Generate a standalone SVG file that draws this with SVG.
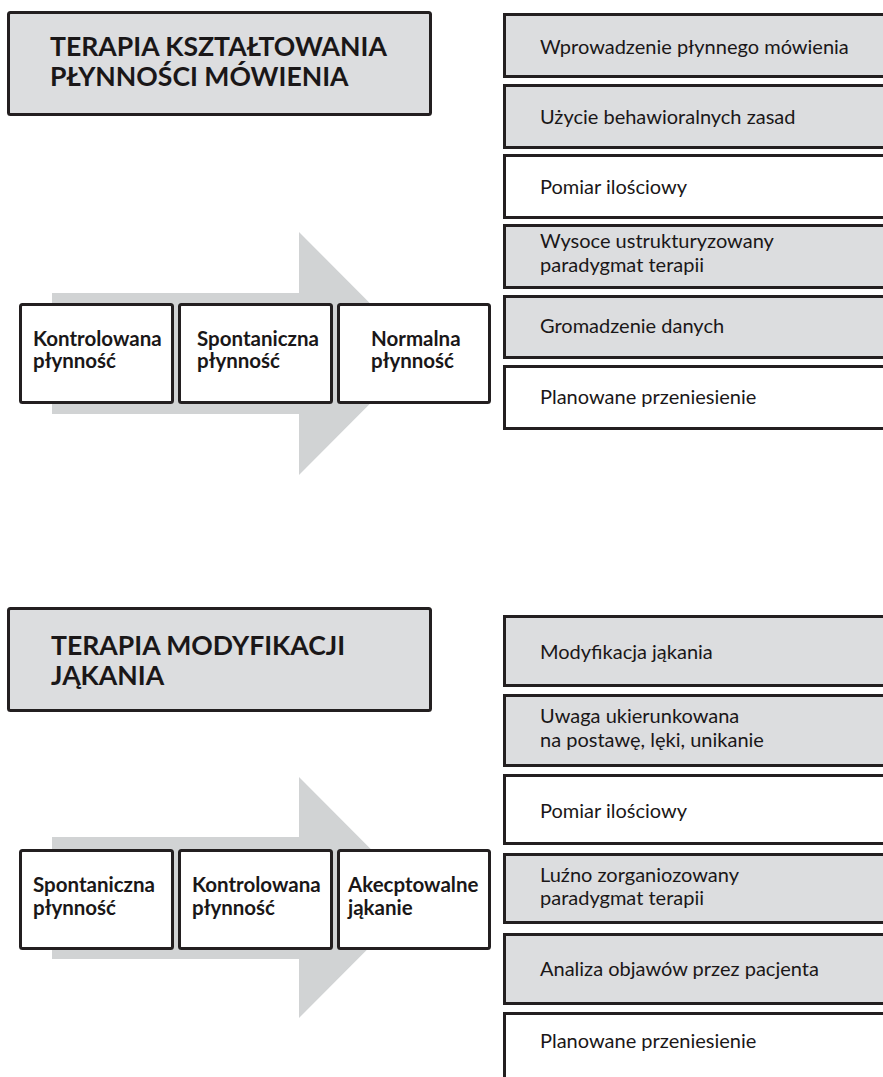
<svg xmlns="http://www.w3.org/2000/svg" width="883" height="1077" viewBox="0 0 883 1077">
<style>
text{font-family:Lato,"Liberation Sans",sans-serif;fill:#1a1718}
.title{font-size:26.6px;font-weight:bold}
.step{font-size:20.5px;font-weight:bold}
.item{font-size:20px}
.tbox{fill:#dcdddf;stroke:#231f20;stroke-width:3}
.g{fill:#dcdddf;stroke:#231f20;stroke-width:3}
.w{fill:#ffffff;stroke:#231f20;stroke-width:3}
.arrow{fill:#d1d3d4}
</style>
<rect width="883" height="1077" fill="#ffffff"/>
<g id="connectors">
<path class="arrow" d="M52,293 H299 V232 L420,353.5 L299,475 V414 H52 Z"/>
<path class="arrow" d="M52,837 H299 V777 L419,897.5 L299,1018 V959 H52 Z"/>
</g>
<g id="title1"><rect class="tbox" x="8.5" y="12.5" width="422" height="102" rx="2"/><text class="title" x="50" y="56">TERAPIA KSZTAŁTOWANIA</text><text class="title" x="50" y="86">PŁYNNOŚCI MÓWIENIA</text></g>
<g id="s1a"><rect class="w" x="20.5" y="304.5" width="152" height="98" rx="2"/><text class="step" x="33" y="346">Kontrolowana</text><text class="step" x="33" y="368">płynność</text></g>
<g id="s1b"><rect class="w" x="179.5" y="304.5" width="152" height="98" rx="2"/><text class="step" x="197" y="346">Spontaniczna</text><text class="step" x="197" y="368">płynność</text></g>
<g id="s1c"><rect class="w" x="338.5" y="304.5" width="151" height="98" rx="2"/><text class="step" x="371" y="346">Normalna</text><text class="step" x="371" y="368">płynność</text></g>
<g id="r1"><rect class="g" x="504.5" y="14.5" width="400" height="62"/><text class="item" x="540" y="54">Wprowadzenie płynnego mówienia</text></g>
<g id="r2"><rect class="g" x="504.5" y="85.5" width="400" height="62"/><text class="item" x="540" y="123.5">Użycie behawioralnych zasad</text></g>
<g id="r3"><rect class="w" x="504.5" y="155.5" width="400" height="62"/><text class="item" x="540" y="193.5">Pomiar ilościowy</text></g>
<g id="r4"><rect class="g" x="504.5" y="225.5" width="400" height="62"/><text class="item" x="540" y="247.5">Wysoce ustrukturyzowany</text><text class="item" x="540" y="271.5">paradygmat terapii</text></g>
<g id="r5"><rect class="g" x="504.5" y="296.5" width="400" height="61"/><text class="item" x="540" y="332.5">Gromadzenie danych</text></g>
<g id="r6"><rect class="w" x="504.5" y="366.5" width="400" height="62"/><text class="item" x="540" y="403.5">Planowane przeniesienie</text></g>
<g id="title2"><rect class="tbox" x="8.5" y="608.5" width="422" height="102" rx="2"/><text class="title" x="51" y="655">TERAPIA MODYFIKACJI</text><text class="title" x="51" y="685">JĄKANIA</text></g>
<g id="s2a"><rect class="w" x="20.5" y="850.5" width="152" height="98" rx="2"/><text class="step" x="33" y="892">Spontaniczna</text><text class="step" x="33" y="915">płynność</text></g>
<g id="s2b"><rect class="w" x="179.5" y="850.5" width="152" height="98" rx="2"/><text class="step" x="192" y="892">Kontrolowana</text><text class="step" x="192" y="915">płynność</text></g>
<g id="s2c"><rect class="w" x="338.5" y="850.5" width="151" height="98" rx="2"/><text class="step" x="348" y="892">Akecptowalne</text><text class="step" x="348" y="915">jąkanie</text></g>
<g id="q1"><rect class="g" x="504.5" y="616.5" width="400" height="69"/><text class="item" x="540" y="659">Modyfikacja jąkania</text></g>
<g id="q2"><rect class="g" x="504.5" y="695.5" width="400" height="70"/><text class="item" x="540" y="723">Uwaga ukierunkowana</text><text class="item" x="540" y="747">na postawę, lęki, unikanie</text></g>
<g id="q3"><rect class="w" x="504.5" y="775.5" width="400" height="68"/><text class="item" x="540" y="818">Pomiar ilościowy</text></g>
<g id="q4"><rect class="g" x="504.5" y="854.5" width="400" height="68"/><text class="item" x="540" y="882">Luźno zorganiozowany</text><text class="item" x="540" y="905">paradygmat terapii</text></g>
<g id="q5"><rect class="g" x="504.5" y="934.5" width="400" height="69"/><text class="item" x="540" y="976">Analiza objawów przez pacjenta</text></g>
<g id="q6"><rect class="w" x="504.5" y="1013.5" width="400" height="80"/><text class="item" x="540" y="1048">Planowane przeniesienie</text></g>
</svg>
